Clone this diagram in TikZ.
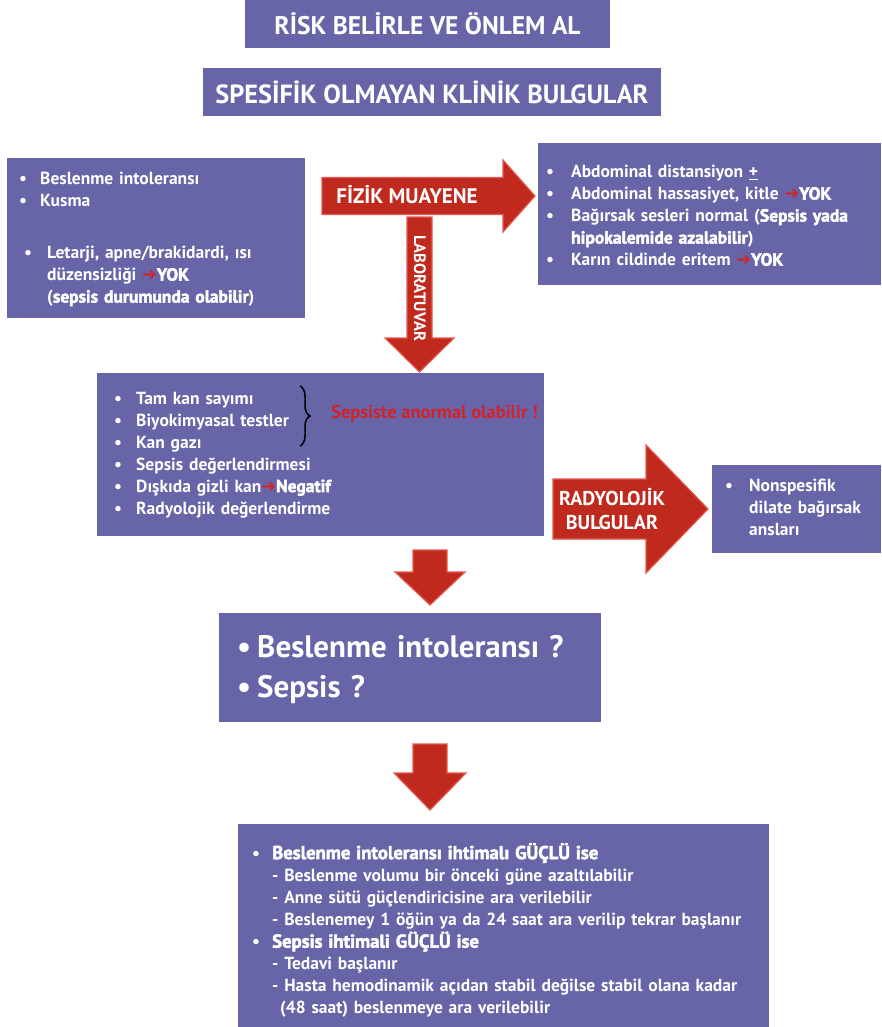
\documentclass[tikz,border=0pt]{standalone}
\usepackage{fontspec}
\setmainfont{PT Sans}
\newfontfamily\heavy{PT Sans}[BoldFeatures={FakeBold=2.5}]
\newfontfamily\symfont{DejaVu Sans}
\usetikzlibrary{decorations.pathreplacing}

\definecolor{boxpurple}{RGB}{103,101,168}
\definecolor{arrowred}{RGB}{192,41,30}
\definecolor{arrowedge}{RGB}{228,88,78}
\definecolor{alertred}{RGB}{210,35,42}

\newcommand{\redarr}{{\symfont\textcolor{alertred}{➔}}} % small red arrow in the text
\newcommand{\hv}[1]{{\heavy\bfseries #1}} % extra heavy words
\newcommand{\lowered}[2]{\raisebox{-#1}[\height][\depth]{#2}} % #1: shift down, #2: content
\newcommand{\harrow}[6]{ % #1: x start, #2: x head, #3: x tip, #4: y centre, #5: half body, #6: half head
  \filldraw[redarrow] (#1,#4-#5) -- (#2,#4-#5) -- (#2,#4-#6) -- (#3,#4) -- (#2,#4+#6) -- (#2,#4+#5) -- (#1,#4+#5) -- cycle;
}
\newcommand{\darrow}[6]{ % #1: y start, #2: y head, #3: y tip, #4: x centre, #5: half body, #6: half head
  \filldraw[redarrow] (#4-#5,#1) -- (#4-#5,#2) -- (#4-#6,#2) -- (#4,#3) -- (#4+#6,#2) -- (#4+#5,#2) -- (#4+#5,#1) -- cycle;
}

\tikzset{
  box/.style={fill=boxpurple, anchor=north west, inner ysep=0pt, align=left, text=white, font=\bfseries\fontsize{17.5}{22}\selectfont},
  title/.style={fill=boxpurple, text=white, font=\bfseries\fontsize{25.5}{28}\selectfont, minimum height=48, inner sep=0pt},
  redarrow/.style={fill=arrowred, draw=arrowedge, line width=1.2pt},
  arrowtext/.style={text=white, font=\bfseries\fontsize{20}{24}\selectfont, inner sep=0pt},
}

\begin{document}
\begin{tikzpicture}[x=1pt, y=-1pt]
\useasboundingbox (0,0) rectangle (881,1027);

% Titles
\node[title, minimum width=365] (risk) at (427.5,24) {RİSK BELİRLE VE ÖNLEM AL};
\node[title, minimum width=458, font=\bfseries\fontsize{26.3}{28}\selectfont] (spec) at (432,92) {SPESİFİK OLMAYAN KLİNİK BULGULAR};

% Clinical findings, left
\node[box, inner xsep=12, text width=274, minimum height=160] (clinic) at (7,158) {%
\lowered{1pt}{\begin{tabular}{@{}p{21pt}@{}l@{}}
• & Beslenme intoleransı\\
• & Kusma\\[30pt]
\hspace{5pt}• & \hspace{7pt}Letarji, apne/brakidardi, ısı\\
  & \hspace{7pt}düzensizliği \redarr\hv{YOK}\\
  & \hspace{7pt}(\hv{sepsis durumunda olabilir})
\end{tabular}}};

% Physical examination, right
\node[box, inner xsep=8, text width=327, minimum height=142] (physical) at (538,143) {%
\lowered{3pt}{\begin{tabular}{@{}p{25pt}@{}l@{}}
• & Abdominal distansiyon \underline{+}\\
• & Abdominal hassasiyet, kitle \redarr\hv{YOK}\\
• & Bağırsak sesleri normal (\hv{Sepsis yada}\\
  & \hv{hipokalemide azalabilir})\\
• & Karın cildinde eritem \redarr\hv{YOK}
\end{tabular}}};

% Laboratory
\node[box, inner xsep=17, text width=413, minimum height=163] (lab) at (97,373) {%
\begin{tabular}{@{}p{22pt}@{}l@{}}
• & Tam kan sayımı\\
• & Biyokimyasal testler\\
• & Kan gazı\\
• & Sepsis değerlendirmesi\\
• & Dışkıda gizli kan\redarr\hv{Negatif}\\
• & Radyolojik değerlendirme
\end{tabular}};
\draw[line width=1.5pt, decorate, decoration={brace, amplitude=10pt}] (300,386) -- (300,446);
\node[anchor=west, text=alertred, font=\bfseries\fontsize{18.5}{22}\selectfont, inner sep=0pt] (alert) at (331,414) {Sepsiste anormal olabilir !};

% Radiology result
\node[box, inner xsep=13, text width=143, minimum height=88] (radfind) at (712,465) {%
\begin{tabular}{@{}p{24pt}@{}l@{}}
• & Nonspesifik\\
  & dilate bağırsak\\
  & ansları
\end{tabular}};

% Question box
\node[box, inner xsep=18, text width=346, minimum height=109, font=\bfseries\fontsize{31}{40}\selectfont] (question) at (219,613) {%
\lowered{2pt}{\begin{tabular}{@{}p{20pt}@{}l@{}}
• & Beslenme intoleransı ?\\
• & Sepsis ?
\end{tabular}}};

% Advice
\node[box, inner xsep=14, text width=503, minimum height=203] (advice) at (238,824) {%
\lowered{6pt}{\begin{tabular}{@{}p{20pt}@{}l@{}}
• & \hv{\fontsize{18.7}{22}\selectfont Beslenme intoleransı ihtimalı GÜÇLÜ ise}\\
  & - Beslenme volumu bir önceki güne azaltılabilir\\
  & - Anne sütü güçlendiricisine ara verilebilir\\
  & - Beslenemey 1 öğün ya da 24 saat ara verilip tekrar başlanır\\
• & \hv{\fontsize{18.7}{22}\selectfont Sepsis ihtimali GÜÇLÜ ise}\\
  & - Tedavi başlanır\\
  & - Hasta hemodinamik açıdan stabil değilse stabil olana kadar\\
  & \hspace{8pt}(48 saat) beslenmeye ara verilebilir
\end{tabular}}};

% Block arrows
\harrow{322}{503}{535}{196}{18.5}{36}
\node[arrowtext, font=\bfseries\fontsize{21}{24}\selectfont] (fizik) at (407,195) {FİZİK MUAYENE};

\darrow{217}{338}{372}{419.5}{12.5}{34.5}
\node[arrowtext, rotate=-90, font=\bfseries\fontsize{16.5}{18}\selectfont] (labor) at (420,288) {LABORATUVAR};

\harrow{553}{646}{708}{509}{30}{64}
\node[arrowtext, align=center] (radyo) at (612,509) {RADYOLOJİK\\BULGULAR};

\darrow{550}{572}{605}{430}{17}{35}
\darrow{744}{773}{810}{430}{17}{36}

\end{tikzpicture}
\end{document}
